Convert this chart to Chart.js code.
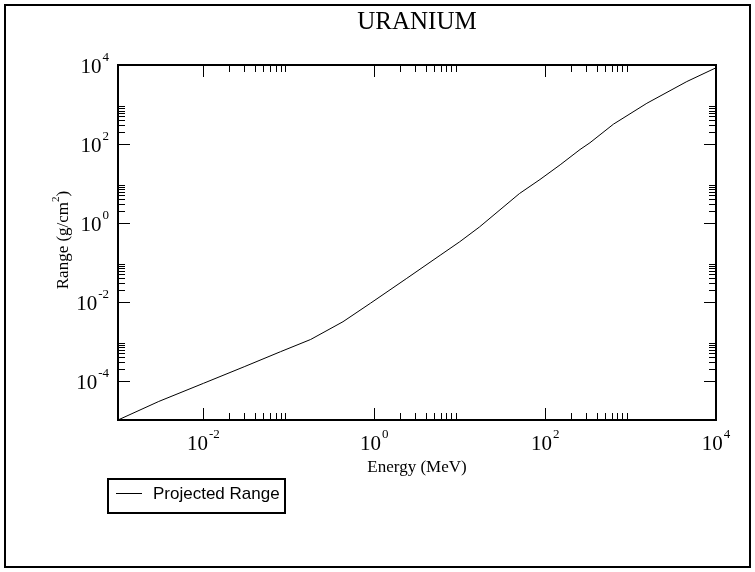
<!DOCTYPE html>
<html>
<head>
<meta charset="utf-8">
<script src="https://cdn.jsdelivr.net/npm/chart.js@4"></script>
<style>
  body { margin: 0; background: #fff; }
  canvas { display: block; }
</style>
</head>
<body>
<canvas id="my-chart" width="755" height="572"></canvas>
<script>
// energy (MeV) and projected range (g/cm^2)
var energies = [0.001, 0.003, 0.01, 0.03, 0.08, 0.18, 0.43, 0.9, 2.4, 5.9,
                10, 17, 50, 87, 150, 256, 335, 630, 1550, 4550, 10000];
var ranges = [1.0e-5, 2.95e-5, 8.5e-5, 2.24e-4, 5.4e-4, 1.1e-3, 3.1e-3, 9.1e-3, 0.039, 0.15,
              0.33, 0.78, 5.5, 12.5, 29.5, 72, 107, 316, 1070, 3800, 8500];
var xLabelExps = [-2, 0, 2, 4];
var yLabelExps = [-4, -2, 0, 2, 4];
var xMajor = [1e-2, 1, 1e2];
var yMajor = [1e-4, 1e-2, 1, 1e2];
var titleText = 'URANIUM';
var seriesName = 'Projected Range';

var SERIF = '"Liberation Serif", "DejaVu Serif", serif';
var SANS = '"Liberation Sans", Arial, sans-serif';

var points = [];
for (var i = 0; i < energies.length; i++) {
  points.push({x: energies[i], y: ranges[i]});
}

function drawPow(ctx, exp, x, y, align) {
  ctx.font = '21px ' + SERIF;
  var w1 = ctx.measureText('10').width;
  ctx.font = '13px ' + SERIF;
  var es = String(exp);
  var w2 = ctx.measureText(es).width;
  var total = w1 + 1 + w2;
  var sx = align === 'right' ? x - total : x - total / 2;
  ctx.textAlign = 'left';
  ctx.textBaseline = 'alphabetic';
  ctx.font = '21px ' + SERIF;
  ctx.fillText('10', sx, y);
  ctx.font = '13px ' + SERIF;
  ctx.fillText(es, sx + w1 + 1, y - 12);
}

var decor = {
  id: 'decor',
  afterDraw: function(chart) {
    var ctx = chart.ctx;
    var a = chart.chartArea;
    var xs = chart.scales.x, ys = chart.scales.y;
    ctx.save();
    ctx.strokeStyle = '#000';
    ctx.fillStyle = '#000';

    // outer frame
    ctx.lineWidth = 2;
    ctx.strokeRect(5, 5, 745, 562);

    // title
    ctx.font = '25px ' + SERIF;
    ctx.textAlign = 'center';
    ctx.textBaseline = 'alphabetic';
    ctx.fillText(titleText, (a.left + a.right) / 2, 29);

    // plot box
    ctx.lineWidth = 2;
    ctx.strokeRect(a.left, a.top, a.right - a.left, a.bottom - a.top);

    // inward ticks on all four sides
    ctx.lineWidth = 1;
    ctx.beginPath();
    xMajor.forEach(function(m) {
      for (var k = 1; k <= 9; k++) {
        var px = Math.round(xs.getPixelForValue(m * k)) + 0.5;
        var len = k === 1 ? 12 : 7;
        ctx.moveTo(px, a.bottom); ctx.lineTo(px, a.bottom - len);
        ctx.moveTo(px, a.top); ctx.lineTo(px, a.top + len);
      }
    });
    yMajor.forEach(function(m) {
      for (var k = 1; k <= 9; k++) {
        var py = Math.round(ys.getPixelForValue(m * k)) + 0.5;
        var len = k === 1 ? 12 : 7;
        ctx.moveTo(a.left, py); ctx.lineTo(a.left + len, py);
        ctx.moveTo(a.right, py); ctx.lineTo(a.right - len, py);
      }
    });
    ctx.stroke();

    // tick labels
    xLabelExps.forEach(function(e) {
      drawPow(ctx, e, xs.getPixelForValue(Math.pow(10, e)), a.bottom + 30, 'center');
    });
    yLabelExps.forEach(function(e) {
      drawPow(ctx, e, a.left - 9, ys.getPixelForValue(Math.pow(10, e)) + 8, 'right');
    });

    // axis titles
    ctx.font = '17px ' + SERIF;
    ctx.textAlign = 'center';
    ctx.fillText('Energy (MeV)', (a.left + a.right) / 2, a.bottom + 52);

    ctx.save();
    ctx.translate(68, 240);
    ctx.rotate(-Math.PI / 2);
    ctx.font = '17px ' + SERIF;
    var p1 = 'Range (g/cm', p2 = '2', p3 = ')';
    var w1 = ctx.measureText(p1).width;
    ctx.font = '11px ' + SERIF;
    var w2 = ctx.measureText(p2).width;
    ctx.font = '17px ' + SERIF;
    var w3 = ctx.measureText(p3).width;
    var sx = -(w1 + w2 + w3) / 2;
    ctx.textAlign = 'left';
    ctx.fillText(p1, sx, 0);
    ctx.font = '11px ' + SERIF;
    ctx.fillText(p2, sx + w1, -9);
    ctx.font = '17px ' + SERIF;
    ctx.fillText(p3, sx + w1 + w2, 0);
    ctx.restore();

    // legend box
    ctx.lineWidth = 2;
    ctx.strokeRect(108, 479, 177, 34);
    ctx.lineWidth = 1;
    ctx.beginPath();
    ctx.moveTo(116, 493.5); ctx.lineTo(142, 493.5);
    ctx.stroke();
    ctx.font = '17px ' + SANS;
    ctx.textAlign = 'left';
    ctx.textBaseline = 'middle';
    ctx.fillText(chart.data.datasets[0].label, 153, 494);

    ctx.restore();
  }
};

var ctx = document.getElementById('my-chart');
var myChart = new Chart(ctx, {
  type: 'line',
  data: {
    datasets: [{
      label: seriesName,
      data: points,
      borderColor: '#000',
      borderWidth: 1,
      pointRadius: 0,
      tension: 0,
      fill: false
    }]
  },
  options: {
    responsive: false,
    animation: false,
    layout: { padding: { top: 65, right: 39, left: 0, bottom: 0 } },
    plugins: { legend: { display: false }, tooltip: { enabled: false } },
    scales: {
      x: {
        type: 'logarithmic', min: 1e-3, max: 1e4,
        grid: { display: false }, border: { display: false },
        ticks: { display: false },
        afterFit: function(s) { s.height = 152; }
      },
      y: {
        type: 'logarithmic', min: 1e-5, max: 1e4,
        grid: { display: false }, border: { display: false },
        ticks: { display: false },
        afterFit: function(s) { s.width = 118; }
      }
    }
  },
  plugins: [decor]
});
</script>
</body>
</html>
